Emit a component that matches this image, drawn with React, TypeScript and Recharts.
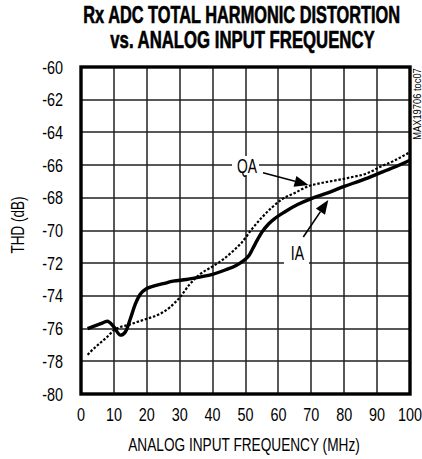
import React from 'react';
import { LineChart, Line, XAxis, YAxis } from 'recharts';

const iaFreq = [2, 4, 6, 8, 10, 12, 13.5, 15, 16.5, 18, 20, 22, 25, 28, 32, 36, 40, 44, 47, 49, 51, 53, 55, 57, 59, 62, 66, 70, 75, 80, 85, 90, 95, 100];
const iaThd = [-76.0, -75.85, -75.7, -75.55, -75.9, -76.4, -76.2, -75.4, -74.5, -73.9, -73.55, -73.4, -73.25, -73.1, -73.0, -72.85, -72.68, -72.4, -72.15, -71.9, -71.55, -70.8, -70.1, -69.6, -69.25, -68.85, -68.4, -68.05, -67.7, -67.3, -66.95, -66.55, -66.15, -65.7];

const qaFreq = [2, 4, 6, 8, 10, 12, 14, 17, 20, 24, 27, 30, 33, 36, 40, 43, 46, 49, 52, 55, 58, 61, 65, 69, 73, 77, 82, 87, 91, 95, 100];
const qaThd = [-77.6, -77.2, -76.85, -76.5, -76.1, -75.9, -75.8, -75.6, -75.4, -75.1, -74.7, -74.1, -73.3, -72.7, -72.2, -71.8, -71.3, -70.7, -69.9, -69.2, -68.6, -68.1, -67.7, -67.3, -67.1, -66.95, -66.75, -66.5, -66.1, -65.75, -65.2];

const xTicks = [0, 10, 20, 30, 40, 50, 60, 70, 80, 90, 100];
const yTicks = [-80, -78, -76, -74, -72, -70, -68, -66, -64, -62, -60];

const titleLines = ['Rx ADC TOTAL HARMONIC DISTORTION', 'vs. ANALOG INPUT FREQUENCY'];
const xLabel = 'ANALOG INPUT FREQUENCY (MHz)';
const yLabel = 'THD (dB)';
const tocLabel = 'MAX19706 toc07';

const iaData = iaFreq.map((f, i) => ({ f, v: iaThd[i] }));
const qaData = qaFreq.map((f, i) => ({ f, v: qaThd[i] }));

const X_MIN = xTicks[0];
const X_MAX = xTicks[xTicks.length - 1];
const Y_MIN = yTicks[0];
const Y_MAX = yTicks[yTicks.length - 1];

const W = 422;
const H = 459;
const L = 81;
const R = 410;
const T = 67;
const B = 394;
const FONT = "'Liberation Sans', Arial, sans-serif";
const GRID = '#222222';

const gx = (f: number) => Math.round(L + ((R - L) * (f - X_MIN)) / (X_MAX - X_MIN));
const gy = (v: number) => Math.round(B - ((B - T) * (v - Y_MIN)) / (Y_MAX - Y_MIN));

function XTick(props: any) {
  const { x, y, payload } = props;
  return (
    <g transform={`translate(${x},${y})`}>
      <text x={0} y={27.5} textAnchor="middle" fontFamily={FONT} fontSize={18} fill="#000" transform="scale(0.8,1)">
        {payload.value}
      </text>
    </g>
  );
}

function YTick(props: any) {
  const { x, y, payload } = props;
  return (
    <g transform={`translate(${x},${y})`}>
      <text x={0} y={6.5} textAnchor="end" fontFamily={FONT} fontSize={18} fill="#000" transform="scale(0.8,1)">
        {payload.value}
      </text>
    </g>
  );
}

function Label({ x, y, sx, size, bold, rotate, anchor, children }: any) {
  const tr = `translate(${x},${y})${rotate ? ` rotate(${rotate})` : ''} scale(${sx},1)`;
  return (
    <text
      x={0}
      y={0}
      transform={tr}
      textAnchor={anchor || 'middle'}
      fontFamily={FONT}
      fontWeight={bold ? 'bold' : 'normal'}
      fontSize={size}
      fill="#000"
      stroke={bold ? '#000' : 'none'}
      strokeWidth={bold ? 0.6 : 0}
    >
      {children}
    </text>
  );
}

function Arrow({ x1, y1, x2, y2 }: { x1: number; y1: number; x2: number; y2: number }) {
  const ang = Math.atan2(y2 - y1, x2 - x1);
  const len = 14;
  const wid = 5.5;
  const bx = x2 - len * Math.cos(ang);
  const by = y2 - len * Math.sin(ang);
  const nx = -Math.sin(ang) * wid;
  const ny = Math.cos(ang) * wid;
  return (
    <g>
      <line x1={x1} y1={y1} x2={bx} y2={by} stroke="#000" strokeWidth={1.6} />
      <polygon points={`${x2},${y2} ${bx + nx},${by + ny} ${bx - nx},${by - ny}`} fill="#000" />
    </g>
  );
}

export default function App() {
  return (
    <div style={{ position: 'absolute', left: 0, top: 0, width: W, height: H, background: '#fff' }}>
      <svg width={W} height={H} style={{ position: 'absolute', left: 0, top: 0 }}>
        {xTicks.map((t) => (
          <rect key={`vx${t}`} x={gx(t) - 0.75} y={T} width={1.5} height={B - T} fill={GRID} />
        ))}
        {yTicks.map((t) => (
          <rect key={`hy${t}`} x={L} y={gy(t) - 0.75} width={R - L} height={1.5} fill={GRID} />
        ))}
      </svg>
      <div style={{ position: 'absolute', left: 0, top: 0 }}>
        <LineChart
          width={W}
          height={H}
          style={{ background: 'transparent' }}
          margin={{ top: T, right: W - R, left: 21, bottom: 35 }}
        >
          <XAxis
            dataKey="f"
            type="number"
            domain={[X_MIN, X_MAX]}
            ticks={xTicks}
            height={30}
            axisLine={false}
            tickLine={false}
            tickSize={0}
            tickMargin={0}
            interval={0}
            tick={<XTick />}
          />
          <YAxis
            dataKey="v"
            type="number"
            domain={[Y_MIN, Y_MAX]}
            ticks={yTicks}
            width={60}
            axisLine={false}
            tickLine={false}
            tickSize={0}
            tickMargin={18}
            interval={0}
            tick={<YTick />}
          />
          <Line
            data={qaData}
            dataKey="v"
            type="monotone"
            stroke="#000"
            strokeWidth={2.2}
            strokeDasharray="2.5 1.8"
            dot={false}
            isAnimationActive={false}
          />
          <Line
            data={iaData}
            dataKey="v"
            type="monotone"
            stroke="#000"
            strokeWidth={3.4}
            dot={false}
            isAnimationActive={false}
          />
        </LineChart>
      </div>
      <svg
        width={W}
        height={H}
        style={{ position: 'absolute', left: 0, top: 0, pointerEvents: 'none' }}
      >
        <rect x={L} y={T} width={R - L} height={B - T} fill="none" stroke="#000" strokeWidth={3.4} />
        <Label x={241.7} y={23.3} sx={0.711} size={23} bold>{titleLines[0]}</Label>
        <Label x={242.5} y={48.3} sx={0.728} size={23} bold>{titleLines[1]}</Label>
        <Label x={244} y={451} sx={0.738} size={18.5}>{xLabel}</Label>
        <Label x={24} y={225} sx={0.75} size={18} rotate={-90}>{yLabel}</Label>
        <Label x={421} y={104} sx={0.85} size={11} rotate={-90}>{tocLabel}</Label>
        <rect x={232} y={156} width={27} height={19} fill="#fff" />
        <Label x={247} y={172.7} sx={0.71} size={19.5}>QA</Label>
        <Arrow x1={263} y1={172.7} x2={308.5} y2={185} />
        <rect x={284} y={241} width={25} height={23} fill="#fff" />
        <Label x={297.5} y={260} sx={0.72} size={19.5}>IA</Label>
        <Arrow x1={303.3} y1={237} x2={328.3} y2={200} />
      </svg>
    </div>
  );
}
